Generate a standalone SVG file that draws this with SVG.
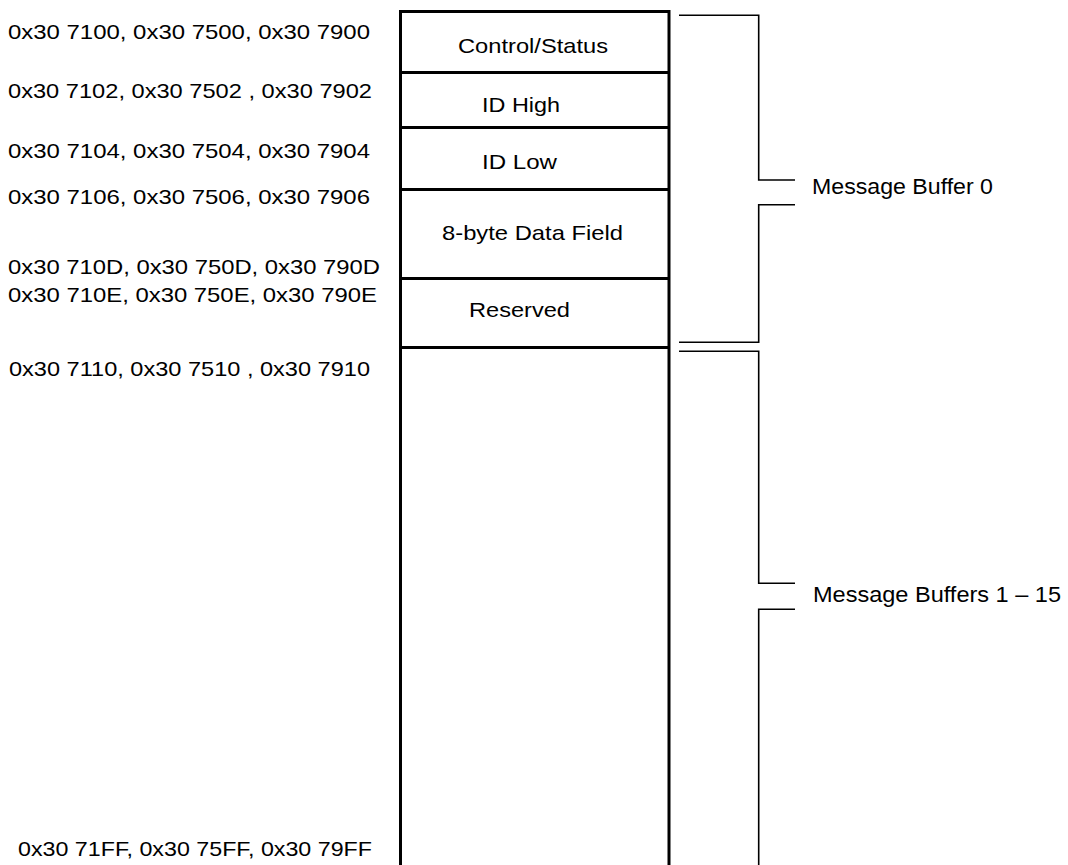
<svg xmlns="http://www.w3.org/2000/svg" width="1068" height="865" viewBox="0 0 1068 865">
<style>
text{font-family:"Liberation Sans",Arial,sans-serif;font-size:21px;fill:#000}
.lbl{font-size:22px}
.box{fill:none;stroke:#000;stroke-width:3}
.br{fill:none;stroke:#000;stroke-width:1.6}
</style>
<rect width="1068" height="865" fill="#fff"/>
<g id="addresses">
<text x="8" y="39" textLength="362" lengthAdjust="spacingAndGlyphs">0x30 7100, 0x30 7500, 0x30 7900</text>
<text x="8" y="97.5" textLength="364" lengthAdjust="spacingAndGlyphs">0x30 7102, 0x30 7502 , 0x30 7902</text>
<text x="8" y="157.5" textLength="362" lengthAdjust="spacingAndGlyphs">0x30 7104, 0x30 7504, 0x30 7904</text>
<text x="8" y="204" textLength="362" lengthAdjust="spacingAndGlyphs">0x30 7106, 0x30 7506, 0x30 7906</text>
<text x="8" y="273.5" textLength="372" lengthAdjust="spacingAndGlyphs">0x30 710D, 0x30 750D, 0x30 790D</text>
<text x="8" y="301.5" textLength="369" lengthAdjust="spacingAndGlyphs">0x30 710E, 0x30 750E, 0x30 790E</text>
<text x="9" y="376" textLength="361" lengthAdjust="spacingAndGlyphs">0x30 7110, 0x30 7510 , 0x30 7910</text>
<text x="18" y="855.5" textLength="354" lengthAdjust="spacingAndGlyphs">0x30 71FF, 0x30 75FF, 0x30 79FF</text>
</g>
<g id="memory-map">
<path class="box" d="M400.5,865 V11.5 H669 V865"/>
<g id="control-status"><line class="box" x1="400.5" y1="72.5" x2="669" y2="72.5"/><text x="458" y="52.5" textLength="150" lengthAdjust="spacingAndGlyphs">Control/Status</text></g>
<g id="id-high"><line class="box" x1="400.5" y1="127.5" x2="669" y2="127.5"/><text x="482" y="112" textLength="78" lengthAdjust="spacingAndGlyphs">ID High</text></g>
<g id="id-low"><line class="box" x1="400.5" y1="189.5" x2="669" y2="189.5"/><text x="482" y="169" textLength="75" lengthAdjust="spacingAndGlyphs">ID Low</text></g>
<g id="data-field"><line class="box" x1="400.5" y1="278.5" x2="669" y2="278.5"/><text x="442" y="239.5" textLength="181" lengthAdjust="spacingAndGlyphs">8-byte Data Field</text></g>
<g id="reserved"><line class="box" x1="400.5" y1="347.5" x2="669" y2="347.5"/><text x="469" y="317" textLength="101" lengthAdjust="spacingAndGlyphs">Reserved</text></g>
<g id="buffers-1-15"/>
</g>
<g id="connectors">
<path class="br" d="M679,15.3 H758.7 V180 H795"/>
<path class="br" d="M795,204.7 H758.7 V342.3 H679"/>
<path class="br" d="M679,351.3 H758.7 V583.3 H795"/>
<path class="br" d="M795,609.3 H758.7 V865"/>
</g>
<g id="labels">
<text class="lbl" x="812" y="194" textLength="181" lengthAdjust="spacingAndGlyphs">Message Buffer 0</text>
<text class="lbl" x="813" y="601.5" textLength="248" lengthAdjust="spacingAndGlyphs">Message Buffers 1 – 15</text>
</g>
</svg>
